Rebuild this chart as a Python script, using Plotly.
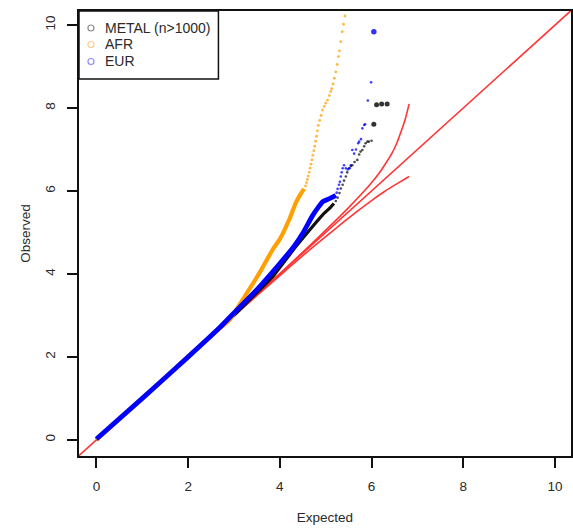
import plotly.graph_objects as go

# ---- QQ plot data: -log10(p) observed vs expected ----
# Dense body of each distribution (drawn as a thick continuous trace)
metal_dense_x = [0.0, 1.0, 2.0, 2.7, 3.0, 3.5, 3.85, 4.35, 4.71, 4.93, 5.1, 5.18]
metal_dense_y = [0.0, 1.0, 2.0, 2.7, 3.0, 3.55, 3.94, 4.66, 5.14, 5.42, 5.6, 5.7]
metal_tail_x = [5.22, 5.26, 5.3, 5.33, 5.37, 5.40, 5.44, 5.47, 5.51, 5.55, 5.58, 5.63,
                5.69, 5.73, 5.76, 5.80, 5.84, 5.87, 5.91, 5.94, 6.0]
metal_tail_y = [5.76, 5.84, 5.95, 6.06, 6.15, 6.25, 6.35, 6.45, 6.55, 6.6, 6.62, 6.7,
                6.75, 6.88, 6.95, 6.99, 7.08, 7.15, 7.19, 7.19, 7.21]
metal_top_x = [6.05, 6.11, 6.22, 6.34]
metal_top_y = [7.61, 8.08, 8.10, 8.10]

afr_dense_x = [0.0, 1.0, 2.0, 2.6, 2.91, 3.23, 3.56, 3.85, 3.99, 4.2, 4.35, 4.45, 4.53]
afr_dense_y = [0.0, 1.0, 2.0, 2.6, 2.9, 3.45, 4.03, 4.6, 4.82, 5.3, 5.72, 5.92, 6.05]
afr_tail_x = [4.56, 4.58, 4.6, 4.62, 4.64, 4.66, 4.68, 4.7, 4.72, 4.74, 4.76, 4.78, 4.8,
              4.82, 4.84, 4.87, 4.9, 4.93, 4.97, 5.0, 5.04, 5.08, 5.11, 5.13, 5.16,
              5.19, 5.22, 5.25, 5.28, 5.3, 5.33, 5.36, 5.39, 5.42]
afr_tail_y = [6.12, 6.2, 6.28, 6.36, 6.45, 6.55, 6.65, 6.75, 6.86, 6.97, 7.08, 7.2, 7.32,
              7.45, 7.58, 7.7, 7.82, 7.95, 8.04, 8.12, 8.19, 8.3, 8.4, 8.47, 8.58,
              8.72, 8.87, 9.05, 9.24, 9.38, 9.6, 9.84, 10.02, 10.22]

eur_dense_x = [0.0, 1.0, 2.0, 2.7, 3.0, 3.49, 3.99, 4.3, 4.5, 4.71, 4.86, 4.93,
               5.05, 5.15, 5.22]
eur_dense_y = [0.02, 1.0, 2.0, 2.72, 3.06, 3.61, 4.24, 4.65, 4.98, 5.4, 5.64, 5.74,
               5.8, 5.85, 5.9]
eur_tail_x = [5.24, 5.26, 5.29, 5.31, 5.33, 5.35, 5.37, 5.40, 5.44, 5.48, 5.52, 5.55,
              5.58, 5.62, 5.66, 5.71, 5.73, 5.77, 5.80, 5.84, 5.86, 5.92, 5.99]
eur_tail_y = [5.96, 6.05, 6.15, 6.22, 6.35, 6.45, 6.55, 6.62, 6.55, 6.52, 6.55, 6.62,
              6.99, 6.9, 7.0, 7.15, 7.19, 7.25, 7.51, 7.59, 7.61, 8.18, 8.62]
eur_top_x = [6.05]
eur_top_y = [9.84]

# Null line and 95% confidence band
diag_x = [-1.0, 11.0]
diag_y = [-1.0, 11.0]
ci_upper_x = [0.0, 3.0, 4.0, 4.64, 5.08, 5.5, 5.8, 6.0, 6.16, 6.3, 6.45, 6.55, 6.65, 6.74, 6.82]
ci_upper_y = [0.0, 3.0, 4.01, 4.67, 5.14, 5.6, 5.95, 6.2, 6.42, 6.65, 6.92, 7.15, 7.45, 7.75, 8.1]
ci_lower_x = [0.0, 3.0, 4.0, 4.5, 5.0, 5.4, 5.7, 6.0, 6.3, 6.55, 6.82]
ci_lower_y = [0.0, 2.99, 3.96, 4.44, 4.9, 5.26, 5.52, 5.77, 6.0, 6.17, 6.35]

tick_vals = [0, 2, 4, 6, 8, 10]
legend_labels = ["METAL (n>1000)", "AFR", "EUR"]
legend_colors = ["rgba(0,0,0,0.45)", "rgba(255,140,0,0.45)", "rgba(0,0,255,0.45)"]

RED = "#ff3535"
BLACK = "#111111"
ORANGE = "#ffa000"
BLUE = "#0000ff"
FONT = "Liberation Sans, Arial, sans-serif"
TXT = "#2a2a2a"

fig = go.Figure()

# reference lines first so the points sit on top
for xs, ys in [(diag_x, diag_y), (ci_upper_x, ci_upper_y), (ci_lower_x, ci_lower_y)]:
    fig.add_trace(go.Scatter(x=xs, y=ys, mode="lines",
                             line=dict(color=RED, width=1.6, shape="spline", smoothing=0.6),
                             showlegend=False, hoverinfo="skip"))

def add_series(name, dx, dy, tx, ty, color, lw, dot):
    fig.add_trace(go.Scatter(x=dx, y=dy, mode="lines", name=name,
                             line=dict(color=color, width=lw, shape="spline", smoothing=0.4),
                             showlegend=False))
    fig.add_trace(go.Scatter(x=tx, y=ty, mode="markers", name=name,
                             marker=dict(color=color, size=dot, opacity=0.75),
                             showlegend=False))

add_series("METAL (n>1000)", metal_dense_x, metal_dense_y, metal_tail_x, metal_tail_y,
           BLACK, 3.2, 2.6)
fig.add_trace(go.Scatter(x=metal_top_x, y=metal_top_y, mode="markers",
                         marker=dict(color="#333333", size=5), showlegend=False))
add_series("AFR", afr_dense_x, afr_dense_y, afr_tail_x, afr_tail_y, ORANGE, 4.2, 2.8)
add_series("EUR", eur_dense_x, eur_dense_y, eur_tail_x, eur_tail_y, BLUE, 4.8, 2.6)
fig.add_trace(go.Scatter(x=eur_top_x, y=eur_top_y, mode="markers",
                         marker=dict(color=BLUE, size=5.5, opacity=0.8), showlegend=False))

# ---- legend box drawn with paper-referenced shapes and annotations ----
W, H = 573, 531
ml, mr, mt, mb = 79, 0, 11, 75
pw, ph = W - ml - mr, H - mt - mb

def px_x(p):
    return (p - ml) / pw

def px_y(p):
    return 1 - (p - mt) / ph

shapes = [dict(type="rect", xref="paper", yref="paper",
               x0=px_x(79), x1=px_x(219), y0=px_y(79), y1=1,
               line=dict(color="#111111", width=1.5), fillcolor="white", layer="above")]
annotations = []
row_y = [28, 44.5, 61.5]
for lab, col, ry in zip(legend_labels, legend_colors, row_y):
    shapes.append(dict(type="circle", xref="paper", yref="paper",
                       xsizemode="pixel", ysizemode="pixel",
                       xanchor=px_x(91), yanchor=px_y(ry),
                       x0=-3, x1=3, y0=-3, y1=3,
                       line=dict(color=col, width=1.2), layer="above"))
    annotations.append(dict(text=lab, xref="paper", yref="paper",
                            x=px_x(103), y=px_y(ry), xanchor="left", yanchor="middle",
                            showarrow=False, font=dict(family=FONT, size=14, color=TXT)))

axis_common = dict(showgrid=False, zeroline=False, showline=True, linecolor="#111111",
                   linewidth=1.5, mirror=True, ticks="outside", ticklen=10,
                   tickwidth=1.5, tickcolor="#111111", tickvals=tick_vals,
                   ticklabelstandoff=7,
                   tickfont=dict(family=FONT, size=13.5, color=TXT))

fig.update_layout(
    width=W, height=H,
    margin=dict(l=ml, r=mr, t=mt, b=mb, pad=0),
    paper_bgcolor="white", plot_bgcolor="white",
    showlegend=False,
    xaxis=dict(range=[-0.38, 10.35], title=dict(text="Expected", standoff=20,
               font=dict(family=FONT, size=13.5, color=TXT)), **axis_common),
    yaxis=dict(range=[-0.39, 10.34], tickangle=-90, title=dict(text="Observed", standoff=9,
               font=dict(family=FONT, size=13.5, color=TXT)), **axis_common),
    shapes=shapes,
    annotations=annotations,
)

fig.write_html("out.html")
